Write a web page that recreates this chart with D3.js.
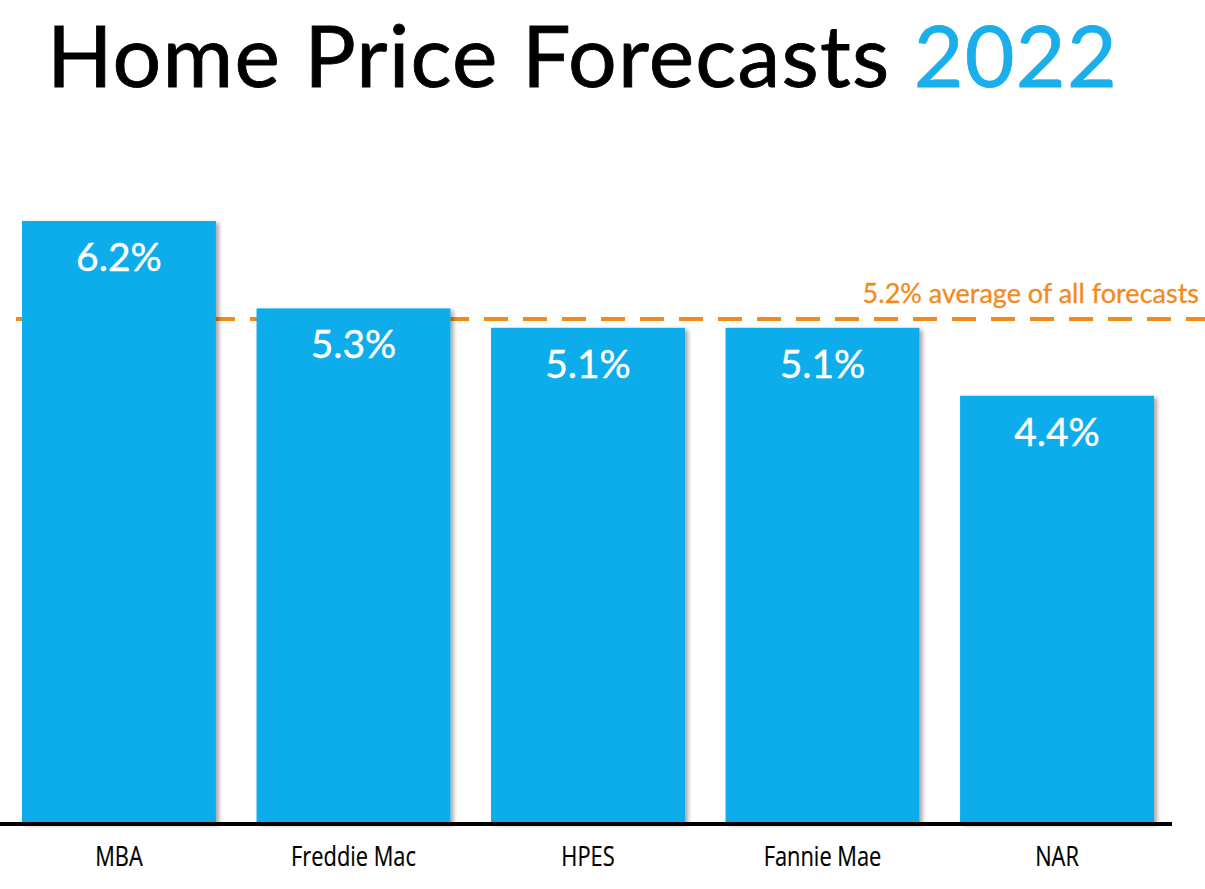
<!DOCTYPE html>
<html>
<head>
<meta charset="utf-8">
<script src="https://cdn.jsdelivr.net/npm/d3@7"></script>
<style>
html,body{margin:0;padding:0;background:#fff;}
svg{display:block;}
</style>
</head>
<body>
<svg id="chart" width="1205" height="889"></svg>
<script>
const categories = ["MBA", "Freddie Mac", "HPES", "Fannie Mae", "NAR"];
const values = [6.2, 5.3, 5.1, 5.1, 4.4];
const valueLabels = ["6.2%", "5.3%", "5.1%", "5.1%", "4.4%"];
const averageValue = 5.2;
const averageLabel = "5.2% average of all forecasts";

const svg = d3.select("#chart");
const font = "Lato, 'Open Sans', sans-serif";
const blue = "#10ADEC";
const orange = "#F28B1C";

const defs = svg.append("defs");
const f = defs.append("filter").attr("id","shadow").attr("x","-5%").attr("y","-5%").attr("width","115%").attr("height","115%");
f.append("feDropShadow").attr("dx",3).attr("dy",2).attr("stdDeviation",2).attr("flood-color","#000").attr("flood-opacity",0.35);

// Title
const title = svg.append("text").attr("x", 47).attr("y", 87)
  .attr("font-family", font).attr("font-size", 86).attr("fill", "#000")
  .attr("letter-spacing", 1.2)
  .attr("stroke", "#000").attr("stroke-width", 0.8);
title.append("tspan").text("Home Price Forecasts ");
title.append("tspan").attr("fill", "#1AAEEA").attr("stroke", "#1AAEEA").text("2022");

const x = d3.scaleBand().domain(categories).range([22, 1154]).paddingInner(0.173).paddingOuter(0);
const y = d3.scaleLinear().domain([0, d3.max(values)]).range([823, 221]);

// average dashed line (behind bars)
svg.append("line").attr("x1", 16).attr("x2", 1205)
  .attr("y1", y(averageValue) + 1).attr("y2", y(averageValue) + 1)
  .attr("stroke", orange).attr("stroke-width", 4).attr("stroke-dasharray", "24,15");
svg.append("text").attr("x", 1199).attr("y", y(averageValue) - 15)
  .attr("text-anchor", "end").attr("font-family", font).attr("font-size", 27)
  .attr("fill", orange).attr("stroke", orange).attr("stroke-width", 0.3).text(averageLabel);

// bars
svg.selectAll("rect.bar").data(categories).enter().append("rect")
  .attr("class","bar")
  .attr("x", d => x(d)).attr("width", x.bandwidth())
  .attr("y", (d,i) => y(values[i])).attr("height", (d,i) => y(0) - y(values[i]))
  .attr("fill", blue).attr("filter","url(#shadow)");

svg.selectAll("text.val").data(categories).enter().append("text")
  .attr("class","val")
  .attr("x", d => x(d) + x.bandwidth()/2)
  .attr("y", (d,i) => y(values[i]) + 50)
  .attr("text-anchor","middle").attr("font-family", font).attr("font-size", 39)
  .attr("fill","#fff").attr("stroke","#fff").attr("stroke-width",0.4)
  .text((d,i) => valueLabels[i]);

// axis
const axis = d3.axisBottom(x).tickSize(0).tickPadding(0).tickFormat(() => "");
const g = svg.append("g").attr("transform", `translate(0,${y(0)})`).call(axis);
g.select(".domain").remove();
g.selectAll(".tick").append("text")
  .attr("transform", "translate(0,43) scale(0.78,1)")
  .attr("text-anchor", "middle")
  .attr("font-family", "'Open Sans', sans-serif").attr("font-size", 28).attr("fill","#000")
  .attr("stroke","#000").attr("stroke-width",0.2)
  .text(d => d);
svg.append("line").attr("x1", 0).attr("x2", 1172).attr("y1", y(0)+1).attr("y2", y(0)+1)
  .attr("stroke","#000").attr("stroke-width",4);
</script>
</body>
</html>
